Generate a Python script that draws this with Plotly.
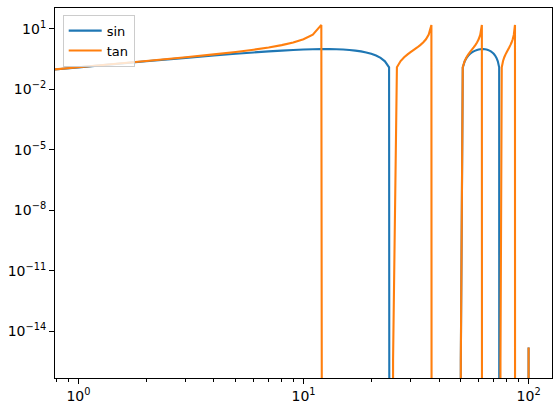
import plotly.graph_objects as go

# x sample positions
x_vals = list(range(0, 101))

# values (0 = not positive, drawn clipped to the bottom like matplotlib)
sin_vals = [
    0,
    0.125, 0.249, 0.368, 0.482, 0.588, 0.685, 0.771, 0.844, 0.905, 0.951, 0.982, 0.998,
    0.998, 0.982, 0.951, 0.905, 0.844, 0.771, 0.685, 0.588, 0.482, 0.368, 0.249, 0.125,
    0, 0, 0, 0, 0, 0, 0, 0, 0, 0, 0, 0, 0, 0, 0, 0, 0, 0, 0, 0, 0, 0, 0, 0, 0,
    4e-16,
    0.125, 0.249, 0.368, 0.482, 0.588, 0.685, 0.771, 0.844, 0.905, 0.951, 0.982, 0.998,
    0.998, 0.982, 0.951, 0.905, 0.844, 0.771, 0.685, 0.588, 0.482, 0.368, 0.249, 0.125,
    0, 0, 0, 0, 0, 0, 0, 0, 0, 0, 0, 0, 0, 0, 0, 0, 0, 0, 0, 0, 0, 0, 0, 0, 0,
    1.6e-15,
]

tan_vals = [
    0,
    0.126, 0.257, 0.396, 0.550, 0.727, 0.939, 1.21, 1.58, 2.13, 3.08, 5.24, 15.9,
    0, 0, 0, 0, 0, 0, 0, 0, 0, 0, 0, 0,
    4e-16,
    0.126, 0.257, 0.396, 0.550, 0.727, 0.939, 1.21, 1.58, 2.13, 3.08, 5.24, 15.9,
    0, 0, 0, 0, 0, 0, 0, 0, 0, 0, 0, 0,
    4e-16,
    0.126, 0.257, 0.396, 0.550, 0.727, 0.939, 1.21, 1.58, 2.13, 3.08, 5.24, 15.9,
    0, 0, 0, 0, 0, 0, 0, 0, 0, 0, 0, 0,
    3.4e-16,
    0.126, 0.257, 0.396, 0.550, 0.727, 0.939, 1.21, 1.58, 2.13, 3.08, 5.24, 15.9,
    0, 0, 0, 0, 0, 0, 0, 0, 0, 0, 0, 0,
    1.6e-15,
]

x_tick_vals = [1, 10, 100]
x_tick_text = ["10<sup>0</sup>", "10<sup>1</sup>", "10<sup>2</sup>"]
x_minor_vals = [0.8, 0.9, 2, 3, 4, 5, 6, 7, 8, 9, 20, 30, 40, 50, 60, 70, 80, 90]
y_tick_vals = [1e1, 1e-2, 1e-5, 1e-8, 1e-11, 1e-14]
y_tick_text = ["10<sup>1</sup>", "10<sup>\u22122</sup>", "10<sup>\u22125</sup>",
               "10<sup>\u22128</sup>", "10<sup>\u221211</sup>", "10<sup>\u221214</sup>"]

TINY = 1e-300  # emulate matplotlib's nonpositive='clip'


def clip(vals):
    return [v if v > 0 else TINY for v in vals]


fig = go.Figure()
fig.add_trace(go.Scatter(x=clip(x_vals), y=clip(sin_vals), mode="lines", name="sin",
                         line=dict(color="#1f77b4", width=2.1, simplify=False)))
fig.add_trace(go.Scatter(x=clip(x_vals), y=clip(tan_vals), mode="lines", name="tan",
                         line=dict(color="#ff7f0e", width=2.1, simplify=False)))

axis_common = dict(showline=True, linecolor="black", linewidth=1.1, mirror=True,
                   ticks="outside", ticklen=5, tickwidth=1.1, tickcolor="black",
                   showgrid=False, zeroline=False, automargin=False,
                   tickfont=dict(family="DejaVu Sans", size=14, color="black"))

fig.update_layout(
    width=559, height=416,
    margin=dict(l=55, r=7, t=8, b=38),
    paper_bgcolor="white", plot_bgcolor="white",
    font=dict(family="DejaVu Sans", size=14, color="black"),
    xaxis=dict(type="log", range=[-0.104, 2.104], tickmode="array",
               tickvals=x_tick_vals, ticktext=x_tick_text,
               minor=dict(tickmode="array", tickvals=x_minor_vals, ticks="outside",
                          ticklen=3, tickwidth=0.8, tickcolor="black", showgrid=False),
               **axis_common),
    yaxis=dict(type="log", range=[-16.31, 2.04], tickmode="array",
               tickvals=y_tick_vals, ticktext=y_tick_text, **axis_common),
    legend=dict(x=0.0155, y=0.982, xanchor="left", yanchor="top",
                bgcolor="rgba(255,255,255,0.8)", bordercolor="#cccccc", borderwidth=1,
                font=dict(family="DejaVu Sans", size=13, color="black"),
                tracegroupgap=0, itemwidth=33),
    showlegend=True,
)

fig.write_html("out.html", config={"displayModeBar": False},
               post_script="document.body.style.margin='0';")
